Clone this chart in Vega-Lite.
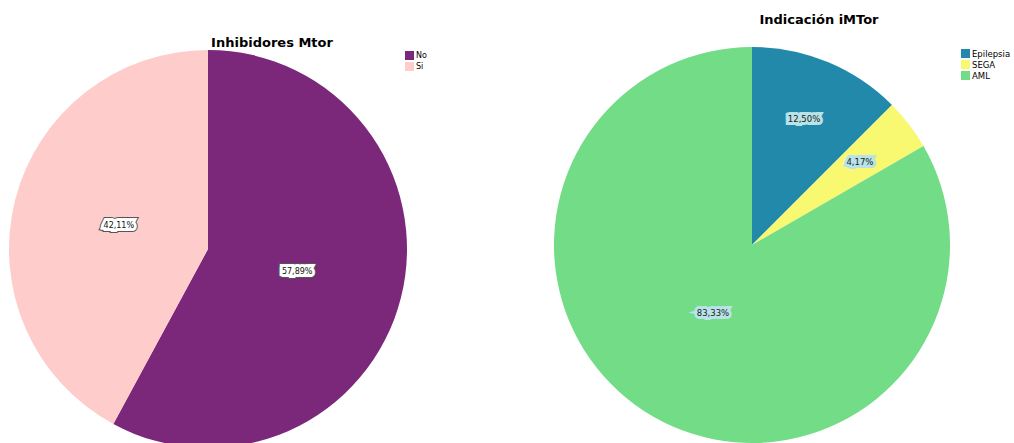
{
  "$schema": "https://vega.github.io/schema/vega-lite/v6.json",
  "padding": 0,
  "spacing": 127,
  "config": {"view": {"stroke": null}, "font": "DejaVu Sans"},
  "resolve": {"scale": {"color": "independent", "theta": "independent"}},
  "hconcat": [
    {
      "width": 416,
      "height": 498,
      "title": {"text": "Inhibidores Mtor", "fontSize": 13, "fontWeight": "bold", "font": "DejaVu Sans", "color": "#000000", "anchor": "middle", "frame": "group", "dx": 64, "dy": 54},
      "data": {"values": [
        {"grupo": "No", "pct": 57.89, "etiqueta": "57,89%", "orden": 1},
        {"grupo": "Si", "pct": 42.11, "etiqueta": "42,11%", "orden": 2}
      ]},
      "encoding": {
        "theta": {"field": "pct", "type": "quantitative", "stack": true},
        "order": {"field": "orden", "type": "quantitative"}
      },
      "layer": [
        {
          "mark": {"type": "arc", "outerRadius": 199},
          "encoding": {
            "color": {"field": "grupo", "type": "nominal",
              "scale": {"domain": ["No", "Si"], "range": ["#7C287A", "#FFCCCC"]},
              "legend": {"orient": "none", "legendX": 405, "legendY": 51, "title": null, "symbolType": "square", "symbolSize": 81, "symbolStrokeWidth": 0, "labelFontSize": 8, "labelFont": "DejaVu Sans", "labelColor": "#000000", "rowPadding": 2, "labelOffset": 2, "padding": 0}}
          }
        },
        {
          "mark": {"type": "text", "radius": 92, "fontSize": 8, "stroke": "#555555", "strokeWidth": 8, "strokeJoin": "miter", "fill": "#555555"},
          "encoding": {"text": {"field": "etiqueta", "type": "nominal"}}
        },
        {
          "mark": {"type": "text", "radius": 92, "fontSize": 8, "stroke": "#ffffff", "strokeWidth": 6, "strokeJoin": "miter", "fill": "#ffffff"},
          "encoding": {"text": {"field": "etiqueta", "type": "nominal"}}
        },
        {
          "mark": {"type": "text", "radius": 92, "fontSize": 8, "fill": "#111111"},
          "encoding": {"text": {"field": "etiqueta", "type": "nominal"}}
        }
      ]
    },
    {
      "width": 396,
      "height": 490,
      "title": {"text": "Indicación iMTor", "fontSize": 13, "fontWeight": "bold", "font": "DejaVu Sans", "color": "#000000", "anchor": "middle", "frame": "group", "dx": 67, "dy": 31},
      "data": {"values": [
        {"cat": "Epilepsia", "pct": 12.5, "etiqueta": "12,50%", "orden": 1},
        {"cat": "SEGA", "pct": 4.17, "etiqueta": "4,17%", "orden": 2},
        {"cat": "AML", "pct": 83.33, "etiqueta": "83,33%", "orden": 3}
      ]},
      "encoding": {
        "theta": {"field": "pct", "type": "quantitative", "stack": true},
        "order": {"field": "orden", "type": "quantitative"}
      },
      "layer": [
        {
          "mark": {"type": "arc", "outerRadius": 198},
          "encoding": {
            "color": {"field": "cat", "type": "nominal",
              "scale": {"domain": ["Epilepsia", "SEGA", "AML"], "range": ["#2389AB", "#F9F871", "#72DD86"]},
              "legend": {"orient": "none", "legendX": 407, "legendY": 49, "title": null, "symbolType": "square", "symbolSize": 81, "symbolStrokeWidth": 0, "labelFontSize": 8.5, "labelFont": "DejaVu Sans", "labelColor": "#000000", "rowPadding": 2, "labelOffset": 2, "padding": 0}}
          }
        },
        {
          "mark": {"type": "text", "radius": 136, "fontSize": 8.5, "stroke": "#B8E3E8", "strokeWidth": 6, "strokeJoin": "miter", "fill": "#B8E3E8"},
          "encoding": {"text": {"field": "etiqueta", "type": "nominal", "condition": {"test": "datum.cat === 'AML'", "value": ""}}}
        },
        {
          "mark": {"type": "text", "radius": 136, "fontSize": 8.5, "fill": "#222222"},
          "encoding": {"text": {"field": "etiqueta", "type": "nominal", "condition": {"test": "datum.cat === 'AML'", "value": ""}}}
        },
        {
          "mark": {"type": "text", "radius": 78, "fontSize": 8.5, "stroke": "#B8E3E8", "strokeWidth": 6, "strokeJoin": "miter", "fill": "#B8E3E8"},
          "encoding": {"text": {"field": "etiqueta", "type": "nominal", "condition": {"test": "datum.cat !== 'AML'", "value": ""}}}
        },
        {
          "mark": {"type": "text", "radius": 78, "fontSize": 8.5, "fill": "#222222"},
          "encoding": {"text": {"field": "etiqueta", "type": "nominal", "condition": {"test": "datum.cat !== 'AML'", "value": ""}}}
        }
      ]
    }
  ]
}
